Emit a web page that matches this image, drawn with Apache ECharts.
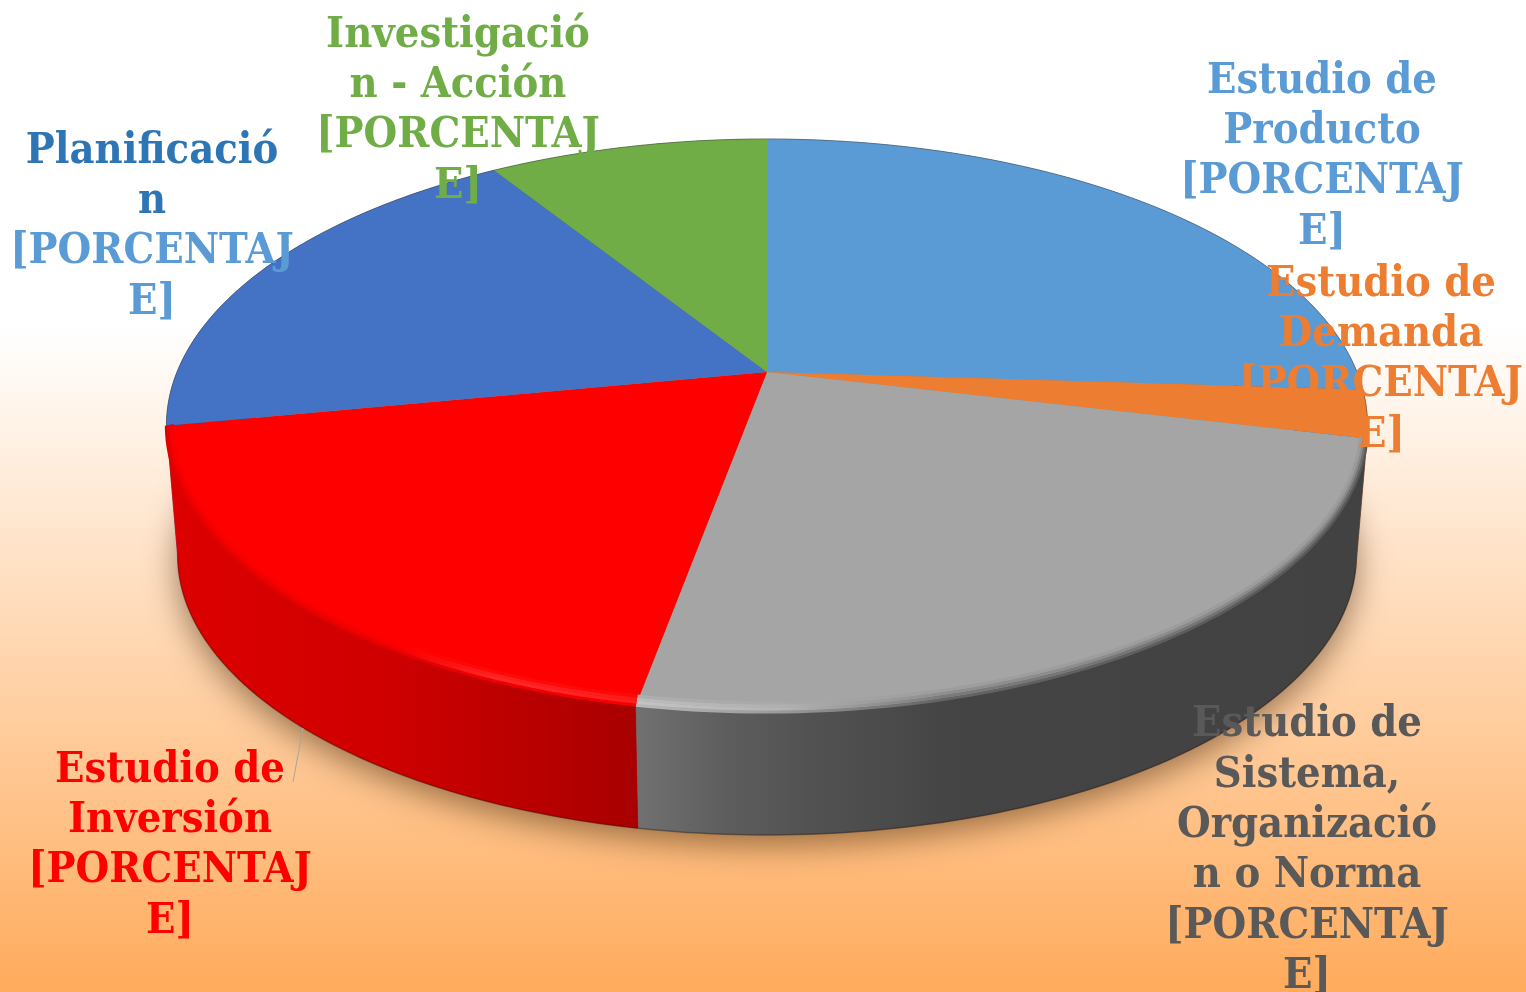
<!DOCTYPE html>
<html><head><meta charset="utf-8">
<style>html,body{margin:0;padding:0;background:#fff}#c{width:1526px;height:992px}</style>
<script src="https://cdn.jsdelivr.net/npm/echarts@6/dist/echarts.min.js"></script>
</head><body><div id="c"></div>
<script>
// --- data ---
const categories = ['Estudio de Producto','Estudio de Demanda','Estudio de Sistema, Organización o Norma','Estudio de Inversión','Planificación','Investigación - Acción'];
const shares = [26, 2.7, 24.2, 19.1, 19, 9];
const labelNames = [['Estudio de','Producto'],['Estudio de','Demanda'],['Estudio de','Sistema,','Organizació','n o Norma'],['Estudio de','Inversión'],['Planificació','n'],['Investigació','n - Acción']];
const labelValues = [['[PORCENTAJ','E]'],['[PORCENTAJ','E]'],['[PORCENTAJ','E]'],['[PORCENTAJ','E]'],['[PORCENTAJ','E]'],['[PORCENTAJ','E]']];

// --- styles and layout ---
const topColors = ['#5b9bd5','#ed7d31','#a5a5a5','#ff0000','#4472c4','#70ad47'];
const nameColors = ['#5b9bd5','#ed7d31','#595959','#ff0000','#2e75b6','#70ad47'];
const valueColors = ['#5b9bd5','#ed7d31','#595959','#ff0000','#5b9bd5','#70ad47'];
const labelPos = [[1322,157],[1381,360],[1307,851],[170,846],[152,227],[458,111]];
const labelFont = 'bold 43px "DejaVu Serif Condensed", "DejaVu Serif", serif';
const TOP = {cx:767, cy:372, A:276.5, c:-0.1867, R:590};
const BOT = {cx:767, cy:503, A:270, c:-0.1867, R:579};
const sideOrder = [0,5,4,1,3,2];

function proj(p, deg) {
  const t = deg*Math.PI/180, u = Math.sin(t), v = -Math.cos(t), d = 1+p.c*v;
  return [p.cx+p.R*u/d, p.cy+p.A*v/d];
}
function arc(p, a0, a1) {
  const n = Math.max(2, Math.ceil(Math.abs(a1-a0))), out = [];
  for (let i=0;i<=n;i++) out.push(proj(p, a0+(a1-a0)*i/n));
  return out;
}
const total = shares.reduce((a,b)=>a+b,0);
const starts = []; let acc = 0;
shares.forEach(s=>{starts.push(acc/total*360); acc+=s;});
const ends = starts.map((s,i)=>s+shares[i]/total*360);
function hgrad(x0,x1,stops){return {type:'linear',global:true,x:x0,y:0,x2:x1,y2:0,colorStops:stops.map(s=>({offset:s[0],color:s[1]}))};}
const sideFills = [
 '#3b6f9e','#a85520',
 hgrad(635,1367,[[0,'#717171'],[0.12,'#5e5e5e'],[0.24,'#525252'],[0.44,'#444'],[1,'#424242']]),
 hgrad(165,637,[[0,'#dd0000'],[0.45,'#d00000'],[0.75,'#bb0000'],[1,'#a80000']]),
 '#2f4f8a','#4f7a32'];
// bevel bands along the front rim, from the outer edge inwards
const rimInsets = [0,2.5,5,7.5];
const rimFills = {
 2: [0,1,2,3].map(k=>hgrad(635,1367,[[0,['#b8b8b8','#c4c4c4','#bcbcbc','#aeaeae'][k]],[0.2,['#9a9a9a','#b4b4b4','#b0b0b0','#a8a8a8'][k]],[0.42,['#646464','#7a7a7a','#8e8e8e','#9e9e9e'][k]],[1,['#585858','#707070','#8a8a8a','#9c9c9c'][k]]])),
 3: [0,1,2,3].map(k=>hgrad(165,637,[[0,['#df0000','#e60000','#f00000','#f80000'][k]],[0.5,['#e40000','#f40000','#fc0000','#ff0000'][k]],[0.7,['#f00000','#ff2a2a','#ff2020','#ff0a0a'][k]],[1,['#f40000','#ff2020','#ff1a1a','#ff0808'][k]]]))
};

const dataOf = () => categories.map((name,i)=>({name, value:shares[i]}));

const shadowSeries = {
  type:'custom', coordinateSystem:'none', silent:true, z:1,
  data:[{name:'sombra',value:total}],
  renderItem(){
    return {type:'polygon', shape:{points:arc(BOT,0,360)},
      style:{fill:'#b08050',shadowBlur:32,shadowColor:'rgba(70,40,10,0.55)',shadowOffsetY:10,shadowOffsetX:0}};
  }
};
const sideSeries = {
  type:'custom', coordinateSystem:'none', silent:true, z:2,
  data:sideOrder.map(i=>({name:categories[i],value:shares[i]})),
  renderItem(params){
    const i = sideOrder[params.dataIndex];
    const pts = arc(TOP,starts[i],ends[i]).concat(arc(BOT,ends[i],starts[i]));
    return {type:'group',children:[
      {type:'polygon', shape:{points:pts}, style:{fill:sideFills[i],stroke:sideFills[i],lineWidth:0.5}},
      {type:'polyline', shape:{points:arc(BOT,starts[i],ends[i])}, style:{fill:null,stroke:'rgba(20,0,0,0.3)',lineWidth:1.5}}
    ]};
  }
};
const topSeries = {
  type:'custom', coordinateSystem:'none', silent:true, z:3, data:dataOf(),
  renderItem(params){
    const i = params.dataIndex;
    const pts = [[TOP.cx,TOP.cy]].concat(arc(TOP,starts[i],ends[i]));
    return {type:'polygon', shape:{points:pts}, style:{fill:topColors[i]}};
  }
};
const rimSeries = {
  type:'custom', coordinateSystem:'none', silent:true, z:4, data:dataOf(),
  renderItem(params){
    const i = params.dataIndex;
    if (!rimFills[i]) return {type:'polyline', shape:{points:arc(TOP,starts[i],ends[i])},
      style:{fill:null,stroke:'rgba(70,70,70,0.45)',lineWidth:1}};
    const children = rimInsets.map((d,k)=>{
      const inner = Object.assign({},TOP,{R:TOP.R-d*0.8,A:TOP.A-d});
      return {type:'polyline', shape:{points:arc(inner,starts[i],ends[i])},
        style:{fill:null,stroke:rimFills[i][k],lineWidth:3.2}};
    });
    return {type:'group',children};
  }
};
const labelSeries = {
  type:'custom', coordinateSystem:'none', silent:true, z:5, data:dataOf(),
  renderItem(params){
    const i = params.dataIndex;
    const text = labelNames[i].map(s=>'{n|'+s+'}').concat(labelValues[i].map(s=>'{v|'+s+'}')).join('\n');
    const rs = c=>({fill:c,font:labelFont,lineHeight:50.4,align:'center'});
    const children = [{type:'text', x:labelPos[i][0], y:labelPos[i][1],
      style:{text, align:'center', verticalAlign:'middle', rich:{n:rs(nameColors[i]),v:rs(valueColors[i])}}}];
    if (i===3) children.push({type:'line', shape:{x1:303,y1:728,x2:293,y2:782}, style:{stroke:'#a6a6a6',lineWidth:1}});
    return {type:'group', children};
  }
};

const chart = echarts.init(document.getElementById('c'), null, {renderer:'canvas'});
chart.setOption({
  animation:false,
  backgroundColor:{type:'linear',x:0,y:0,x2:0,y2:1,colorStops:[{offset:0,color:'#ffffff'},{offset:0.33,color:'#ffffff'},{offset:1,color:'#ffab5c'}]},
  series:[shadowSeries,sideSeries,topSeries,rimSeries,labelSeries]
});
</script></body></html>
